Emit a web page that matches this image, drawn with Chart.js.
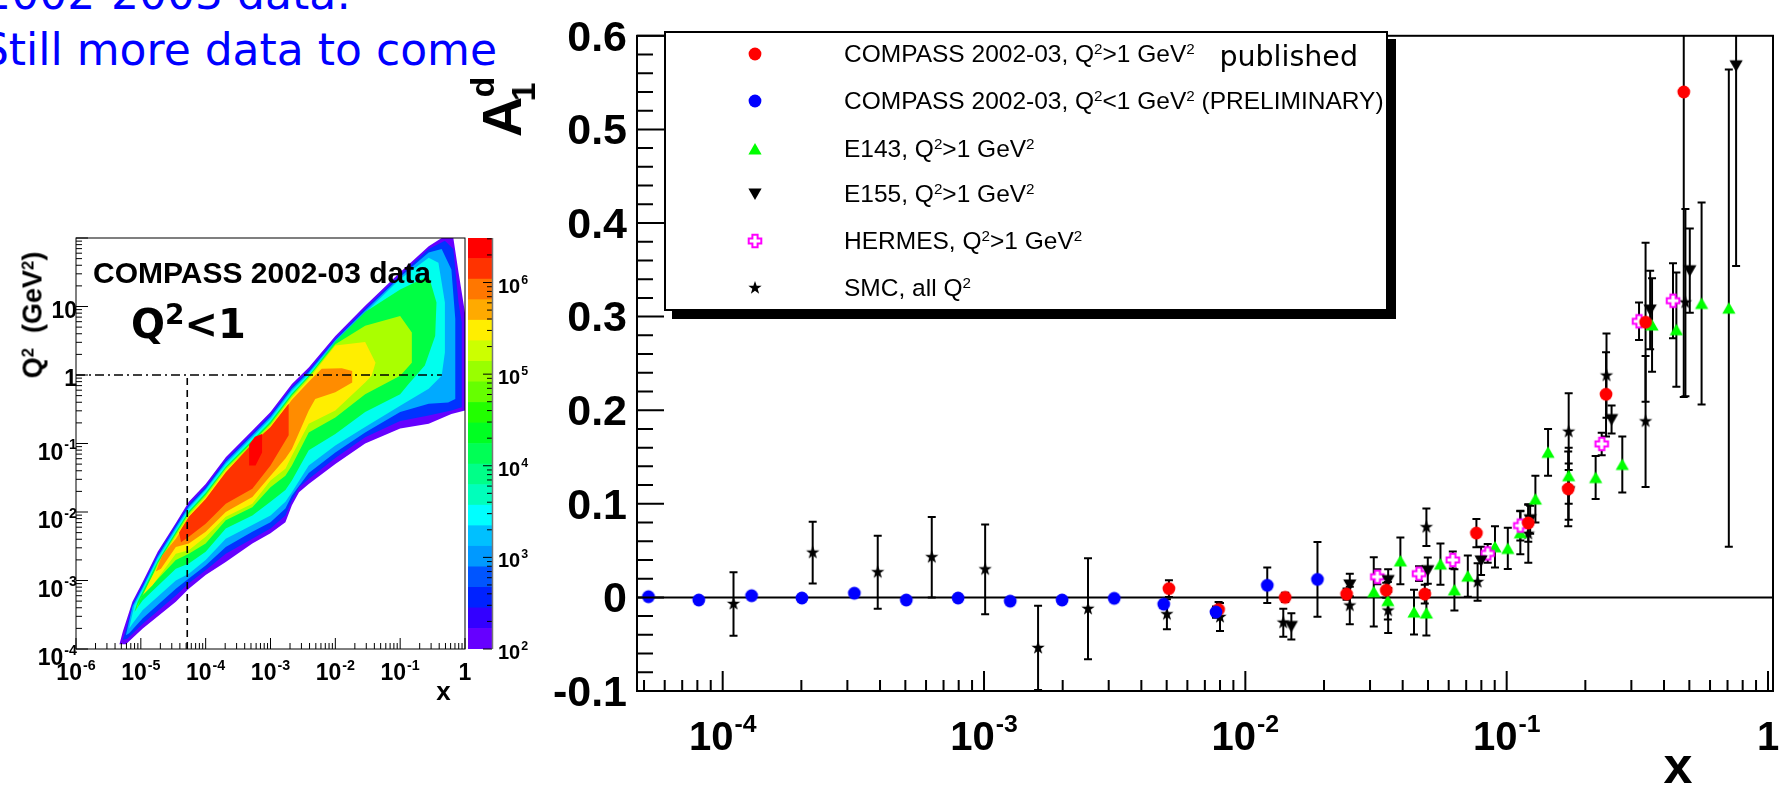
<!DOCTYPE html>
<html lang="en">
<head>
<meta charset="UTF-8">
<title>A1d versus x</title>
<script src="https://cdn.jsdelivr.net/npm/chart.js"></script>
<style>
  * { margin: 0; padding: 0; box-sizing: border-box; }
  body { width: 1780px; height: 785px; overflow: hidden; background: #fff; position: relative;
         font-family: 'Liberation Sans', Arial, Helvetica, sans-serif; color: #000; }
  canvas { position: absolute; }
  .txt { position: absolute; white-space: nowrap; line-height: 1; }
  .comic { font-family: 'Comic Sans MS', 'DejaVu Sans', sans-serif; }
  .bold { font-weight: bold; }
  .rot { transform: translate(-50%, -50%) rotate(-90deg); }
  .ctr { transform: translate(-50%, -50%); }
  sup { font-size: 0.62em; position: relative; top: -0.5em; vertical-align: baseline; line-height: 0; }
  #legend { position: absolute; left: 664px; top: 31px; width: 724px; height: 280px;
            border: 2px solid #000; background: #fff; box-shadow: 8px 8px 0 #000; }
  #legend canvas { position: absolute; left: 80px; }
  #legend .txt { left: 178px; font-size: 24.5px; }
</style>
</head>
<body>
<canvas id="heat" width="480" height="520" style="left:0;top:200px"></canvas>
<canvas id="zbar" width="100" height="520" style="left:440px;top:200px"></canvas>
<canvas id="main" width="1240" height="785" style="left:540px;top:0"></canvas>

<div class="txt comic" style="right:1429px;top:-28px;font-size:44px;color:#0000ff">2002-2003 data:</div>
<div class="txt comic" style="right:1283px;top:28px;font-size:44px;color:#0000ff">Still more data to come</div>

<div class="txt bold" style="left:93px;top:257.6px;font-size:30px">COMPASS 2002-03 data</div>
<div class="txt comic bold" style="left:131px;top:304px;font-size:40px">Q<sup style="font-size:0.7em">2</sup>&lt;1</div>
<div class="txt bold rot" style="left:33px;top:315px;font-size:27px">Q<sup>2</sup>&nbsp;&nbsp;(GeV<sup>2</sup>)</div>
<div class="txt bold ctr" style="left:443.5px;top:691px;font-size:26px">x</div>

<div class="txt bold rot" style="left:502px;top:117px;font-size:56px">A</div>
<div class="txt bold rot" style="left:481.5px;top:87px;font-size:34px">d</div>
<div class="txt bold rot" style="left:522.5px;top:91.5px;font-size:34px">1</div>
<div class="txt bold ctr" style="left:1678px;top:764.5px;font-size:52px">x</div>

<div id="legend">
  <canvas width="18" height="18" data-m="0" style="top:12px"></canvas>
  <canvas width="18" height="18" data-m="1" style="top:59px"></canvas>
  <canvas width="18" height="18" data-m="2" style="top:107px"></canvas>
  <canvas width="18" height="18" data-m="3" style="top:152px"></canvas>
  <canvas width="18" height="18" data-m="4" style="top:199px"></canvas>
  <canvas width="18" height="18" data-m="5" style="top:246px"></canvas>
  <div class="txt" style="top:8.8px">COMPASS 2002-03, Q<sup>2</sup>&gt;1 GeV<sup>2</sup></div>
  <div class="txt" style="top:55.8px">COMPASS 2002-03, Q<sup>2</sup>&lt;1 GeV<sup>2</sup> (PRELIMINARY)</div>
  <div class="txt" style="top:103.8px">E143, Q<sup>2</sup>&gt;1 GeV<sup>2</sup></div>
  <div class="txt" style="top:148.8px">E155, Q<sup>2</sup>&gt;1 GeV<sup>2</sup></div>
  <div class="txt" style="top:195.8px">HERMES, Q<sup>2</sup>&gt;1 GeV<sup>2</sup></div>
  <div class="txt" style="top:242.8px">SMC, all Q<sup>2</sup></div>
</div>
<div class="txt comic" style="right:422px;top:43px;font-size:28.5px">published</div>

<script>
  // ---- A1d vs x ----
  const compassHiX   = [0.0051, 0.0079, 0.0142, 0.0244, 0.0346, 0.0486, 0.0766, 0.121, 0.172, 0.240, 0.340, 0.476];
  const compassHiY   = [0.0094, -0.0129, 0.000, 0.0035, 0.0077, 0.0035, 0.0687, 0.0795, 0.116, 0.217, 0.294, 0.540];
  const compassHiErr = [0.009, 0.008, 0.005, 0.006, 0.008, 0.010, 0.015, 0.020, 0.040, 0.045, 0.085, 0.326];

  const compassLoX   = [5.2e-5, 8.1e-5, 1.29e-4, 2.01e-4, 3.19e-4, 5.04e-4, 7.96e-4, 1.26e-3, 1.99e-3, 3.15e-3, 4.87e-3, 7.72e-3, 0.01213, 0.01888];
  const compassLoY   = [0.0007, -0.0028, 0.0018, -0.0007, 0.0045, -0.0028, -0.0007, -0.004, -0.0028, -0.001, -0.0073, -0.0157, 0.0129, 0.0192];
  const compassLoErr = [0.002, 0.002, 0.002, 0.002, 0.002, 0.002, 0.002, 0.002, 0.002, 0.003, 0.004, 0.006, 0.019, 0.040];

  const e143X   = [0.0310, 0.0351, 0.0392, 0.0442, 0.0493, 0.0558, 0.0631, 0.0710, 0.0902, 0.101, 0.1128, 0.1288, 0.144, 0.1727, 0.219, 0.277, 0.360, 0.446, 0.557, 0.708];
  const e143Y   = [0.006, -0.0035, 0.039, -0.0157, -0.0167, 0.0356, 0.008, 0.0227, 0.054, 0.0523, 0.069, 0.105, 0.155, 0.130, 0.128, 0.142, 0.291, 0.286, 0.314, 0.309];
  const e143Err = [0.037, 0.020, 0.025, 0.024, 0.024, 0.022, 0.022, 0.022, 0.022, 0.022, 0.023, 0.025, 0.025, 0.030, 0.023, 0.030, 0.050, 0.061, 0.108, 0.255];

  const e155X   = [0.0150, 0.0251, 0.0352, 0.0499, 0.0798, 0.123, 0.1727, 0.252, 0.354, 0.502, 0.755];
  const e155Y   = [-0.031, 0.0133, 0.018, 0.0286, 0.039, 0.083, 0.113, 0.190, 0.307, 0.349, 0.568];
  const e155Err = [0.014, 0.012, 0.012, 0.014, 0.015, 0.015, 0.030, 0.015, 0.042, 0.045, 0.214];

  const hermesX   = [0.0320, 0.0462, 0.0622, 0.0846, 0.1128, 0.231, 0.321, 0.433];
  const hermesY   = [0.022, 0.0254, 0.040, 0.047, 0.0767, 0.164, 0.295, 0.317];
  const hermesErr = [0.008, 0.008, 0.009, 0.010, 0.016, 0.012, 0.020, 0.040];

  const smcX   = [1.10e-4, 2.21e-4, 3.92e-4, 6.31e-4, 1.01e-3, 1.61e-3, 2.50e-3, 5.01e-3, 8.0e-3, 0.01397, 0.0251, 0.0352, 0.0493, 0.0774, 0.121, 0.1727, 0.241, 0.340, 0.483];
  const smcY   = [-0.007, 0.0478, 0.0269, 0.043, 0.030, -0.054, -0.0122, -0.018, -0.021, -0.027, -0.0087, -0.014, 0.075, 0.0164, 0.068, 0.177, 0.237, 0.188, 0.315];
  const smcErr = [0.034, 0.033, 0.039, 0.043, 0.048, 0.045, 0.054, 0.016, 0.015, 0.015, 0.020, 0.024, 0.020, 0.020, 0.031, 0.041, 0.045, 0.070, 0.100];

  const mainXLabels = [1e-4, 1e-3, 1e-2, 1e-1, 1];

  // ---- Q2 vs x occupancy, contour outlines as [log10 x, log10 Q2] ----
  const heatViolet = [[-5.33,-3.93],[-5.28,-3.75],[-5.13,-3.31],[-4.97,-3.02],[-4.74,-2.58],[-4.46,-2.16],[-4.26,-1.85],[-4.00,-1.59],[-3.69,-1.20],[-3.28,-0.81],[-3.00,-0.54],[-2.67,-0.13],[-2.41,0.11],[-2.00,0.57],[-1.54,1.01],[-1.00,1.50],[-0.56,1.88],[-0.36,2.0],[-0.18,2.0],[-0.10,1.50],[0,0.91],
    [0,-0.52],[-0.21,-0.57],[-0.56,-0.71],[-1.00,-0.78],[-1.54,-1.00],[-2.00,-1.30],[-2.41,-1.59],[-2.56,-1.71],[-2.67,-1.90],[-2.77,-2.15],[-3.00,-2.31],[-3.28,-2.46],[-3.69,-2.73],[-4.00,-2.92],[-4.26,-3.12],[-4.46,-3.31],[-4.97,-3.70],[-5.23,-3.93]];
  const heatBlue = [[-5.28,-3.87],[-5.23,-3.72],[-5.13,-3.35],[-4.97,-3.06],[-4.74,-2.62],[-4.46,-2.19],[-4.26,-1.89],[-4.00,-1.63],[-3.69,-1.24],[-3.28,-0.85],[-3.00,-0.58],[-2.67,-0.17],[-2.41,0.07],[-2.00,0.53],[-1.54,0.97],[-1.00,1.46],[-0.56,1.84],[-0.31,1.96],[-0.18,1.84],[-0.10,1.06],[-0.05,0.77],
    [-0.05,-0.47],[-0.21,-0.52],[-0.56,-0.59],[-1.00,-0.67],[-1.54,-0.91],[-2.00,-1.21],[-2.41,-1.52],[-2.56,-1.64],[-2.67,-1.83],[-2.77,-2.05],[-3.00,-2.24],[-3.28,-2.39],[-3.69,-2.61],[-4.00,-2.85],[-4.26,-3.04],[-4.46,-3.22],[-4.97,-3.63],[-5.21,-3.85]];
  const heatSky = [[-5.23,-3.80],[-5.13,-3.38],[-4.97,-3.09],[-4.74,-2.65],[-4.46,-2.22],[-4.26,-1.92],[-4.00,-1.66],[-3.69,-1.27],[-3.28,-0.88],[-3.00,-0.61],[-2.67,-0.20],[-2.41,0.04],[-2.00,0.51],[-1.54,0.94],[-1.00,1.43],[-0.56,1.79],[-0.36,1.84],[-0.21,1.54],[-0.15,0.82],
    [-0.15,-0.35],[-0.26,-0.40],[-0.56,-0.42],[-1.00,-0.54],[-1.54,-0.84],[-2.00,-1.13],[-2.41,-1.43],[-2.67,-1.76],[-2.77,-1.95],[-3.00,-2.15],[-3.28,-2.29],[-3.69,-2.51],[-4.00,-2.78],[-4.26,-2.97],[-4.46,-3.12],[-4.97,-3.55],[-5.18,-3.77]];
  const heatCyan = [[-5.18,-3.70],[-5.10,-3.36],[-4.97,-3.12],[-4.74,-2.68],[-4.46,-2.25],[-4.26,-1.95],[-4.00,-1.68],[-3.69,-1.30],[-3.28,-0.91],[-3.00,-0.64],[-2.67,-0.23],[-2.41,0.02],[-2.00,0.48],[-1.54,0.91],[-1.00,1.40],[-0.56,1.71],[-0.41,1.64],[-0.31,1.06],[-0.31,0.33],
    [-0.36,-0.01],[-0.56,-0.20],[-1.00,-0.45],[-1.54,-0.76],[-2.00,-1.03],[-2.41,-1.32],[-2.67,-1.71],[-2.77,-1.85],[-3.00,-2.05],[-3.28,-2.19],[-3.69,-2.39],[-4.00,-2.70],[-4.26,-2.90],[-4.46,-3.00],[-4.97,-3.43],[-5.13,-3.63]];
  const heatGreen = [[-5.13,-3.55],[-5.05,-3.31],[-4.95,-3.12],[-4.74,-2.72],[-4.46,-2.29],[-4.26,-1.99],[-4.00,-1.72],[-3.69,-1.34],[-3.28,-0.95],[-3.00,-0.68],[-2.67,-0.27],[-2.41,-0.01],[-2.00,0.49],[-1.54,0.92],[-1.00,1.25],[-0.56,1.45],[-0.44,1.06],[-0.46,0.57],
    [-0.62,0.14],[-0.87,-0.13],[-1.00,-0.28],[-1.54,-0.54],[-2.00,-0.86],[-2.41,-1.10],[-2.67,-1.54],[-2.77,-1.68],[-3.00,-1.85],[-3.28,-2.05],[-3.69,-2.24],[-4.00,-2.58],[-4.26,-2.75],[-4.46,-2.83],[-4.97,-3.29],[-5.10,-3.46]];
  const heatLime = [[-5.08,-3.46],[-5.00,-3.26],[-4.90,-3.12],[-4.74,-2.75],[-4.46,-2.32],[-4.26,-2.02],[-4.00,-1.75],[-3.69,-1.36],[-3.28,-0.98],[-3.00,-0.71],[-2.67,-0.30],[-2.41,-0.03],[-2.00,0.45],[-1.54,0.72],[-1.00,0.86],[-0.82,0.62],[-0.82,0.18],
    [-1.00,-0.01],[-1.54,-0.28],[-2.00,-0.62],[-2.41,-0.84],[-2.67,-1.32],[-2.77,-1.47],[-3.00,-1.64],[-3.28,-1.93],[-3.69,-2.12],[-4.00,-2.46],[-4.26,-2.61],[-4.46,-2.70],[-4.97,-3.21],[-5.05,-3.36]];
  const heatYellow = [[-4.97,-3.21],[-4.87,-3.02],[-4.72,-2.75],[-4.46,-2.35],[-4.26,-2.05],[-4.00,-1.78],[-3.69,-1.39],[-3.28,-1.01],[-3.00,-0.74],[-2.67,-0.33],[-2.41,-0.06],[-2.00,0.43],[-1.54,0.48],[-1.38,0.18],[-1.44,-0.01],
    [-1.54,-0.11],[-2.00,-0.52],[-2.41,-0.71],[-2.67,-1.18],[-2.77,-1.37],[-3.00,-1.54],[-3.28,-1.88],[-3.69,-2.07],[-4.00,-2.36],[-4.26,-2.56],[-4.46,-2.61],[-4.82,-3.07]];
  const heatOrange = [[-4.77,-2.87],[-4.67,-2.63],[-4.46,-2.39],[-4.26,-2.09],[-4.00,-1.82],[-3.69,-1.43],[-3.28,-1.04],[-3.00,-0.78],[-2.67,-0.36],[-2.41,-0.10],[-2.21,0.09],[-1.90,0.10],[-1.74,0.06],
    [-1.74,-0.11],[-2.00,-0.25],[-2.31,-0.35],[-2.41,-0.52],[-2.67,-1.08],[-2.77,-1.22],[-3.00,-1.47],[-3.28,-1.78],[-3.69,-2.00],[-4.00,-2.29],[-4.26,-2.46],[-4.46,-2.51],[-4.69,-2.83]];
  const heatRedOrange = [[-4.41,-2.30],[-4.26,-2.07],[-4.00,-1.81],[-3.69,-1.42],[-3.28,-1.00],[-3.00,-0.76],[-2.72,-0.42],
    [-2.72,-0.88],[-3.00,-1.32],[-3.28,-1.66],[-3.69,-1.88],[-4.00,-2.17],[-4.26,-2.36],[-4.38,-2.44]];
  const heatRed = [[-3.33,-1.02],[-3.24,-0.90],[-3.13,-0.86],[-3.13,-1.13],[-3.23,-1.32],[-3.33,-1.32]];

  const cutXmin = 5.2e-5;      // dashed vertical cut
  const cutQ2 = 1;             // dash-dotted Q2 = 1 line
  const cutLineXmax = 0.44;
  const heatXLabels = [1e-6, 1e-5, 1e-4, 1e-3, 1e-2, 1e-1, 1];
  const heatYLabels = [1e-4, 1e-3, 1e-2, 1e-1, 1, 10];

  // colour scale: 20 equal log steps
  const zEdges = [100, 168, 281, 471, 789, 1323, 2217, 3716, 6228, 10440, 17500, 29330, 49160, 82400, 138100, 231500, 388000, 650300, 1090000, 1827000, 3062000];
  const zLabels = [1e2, 1e3, 1e4, 1e5, 1e6];

  // styles
  const zColors = ['#6600ff', '#3300ff', '#0022ff', '#0055ff', '#0099ff', '#00c0ff', '#00ffff', '#00ffbb', '#00ff88', '#00ff55',
                   '#00ff22', '#22ff00', '#66ff00', '#99ff00', '#ccff00', '#ffee00', '#ffaa00', '#ff7700', '#ff3300', '#ff0000'];
  const heatLevels = [
    [heatViolet, '#6600ff'], [heatBlue, '#0033ff'], [heatSky, '#00aaff'], [heatCyan, '#00ffee'],
    [heatGreen, '#00ff44'], [heatLime, '#aaff00'], [heatYellow, '#ffee00'], [heatOrange, '#ff8c00'],
    [heatRedOrange, '#ff3300'], [heatRed, '#ff0000']
  ];
  const FONT = "'Liberation Sans', 'DejaVu Sans', Arial, sans-serif";

  function logTicks(lo, hi, major, minor) {
    const out = [];
    for (let e = Math.floor(Math.log10(lo)); e <= Math.ceil(Math.log10(hi)); e++) {
      for (let k = 1; k <= 9; k++) {
        const v = k * Math.pow(10, e);
        if (v >= lo * 0.999 && v <= hi * 1.001) out.push([v, k === 1 ? major : minor]);
      }
    }
    return out;
  }
  function linTicks(lo, hi, step, every, major, minor) {
    const out = [];
    const n = Math.round((hi - lo) / step);
    for (let i = 0; i <= n; i++) out.push([lo + i * step, i % every === 0 ? major : minor]);
    return out;
  }

  // markers like the ROOT ones
  function makeMarker(kind, color) {
    const c = document.createElement('canvas');
    c.width = c.height = 18;
    const g = c.getContext('2d');
    g.translate(9, 9);
    g.fillStyle = color;
    g.strokeStyle = color;
    g.beginPath();
    if (kind === 'circle') {
      g.arc(0, 0, 6.4, 0, Math.PI * 2);
    } else if (kind === 'up') {
      g.moveTo(0, -6); g.lineTo(6.6, 5.6); g.lineTo(-6.6, 5.6);
    } else if (kind === 'down') {
      g.moveTo(0, 6); g.lineTo(6.6, -5.6); g.lineTo(-6.6, -5.6);
    } else if (kind === 'star') {
      for (let i = 0; i < 10; i++) {
        const r = i % 2 ? 2.8 : 7;
        const a = -Math.PI / 2 + i * Math.PI / 5;
        g.lineTo(r * Math.cos(a), r * Math.sin(a));
      }
    } else if (kind === 'cross') {
      const a = 2.6, b = 6.3;
      [[-a,-b],[a,-b],[a,-a],[b,-a],[b,a],[a,a],[a,b],[-a,b],[-a,a],[-b,a],[-b,-a],[-a,-a]].forEach(([x, y]) => g.lineTo(x, y));
    }
    g.closePath();
    if (kind === 'cross') {
      g.fillStyle = '#fff'; g.fill();
      g.lineWidth = 2; g.stroke();
    } else {
      g.fill();
    }
    return c;
  }
  const markers = [
    makeMarker('circle', '#ff0000'), makeMarker('circle', '#0000ff'), makeMarker('up', '#00ff00'),
    makeMarker('down', '#000000'), makeMarker('cross', '#ff00ff'), makeMarker('star', '#000000')
  ];
  document.querySelectorAll('#legend canvas').forEach(c => {
    c.getContext('2d').drawImage(markers[+c.dataset.m], 0, 0);
  });

  // frame, inward ticks and the zero line
  const rootFrame = {
    id: 'rootFrame',
    beforeDatasetsDraw(chart, args, o) {
      if (!o.zeroLine) return;
      const {ctx, chartArea: a, scales} = chart;
      const p = scales.y.getPixelForValue(0);
      ctx.save();
      ctx.strokeStyle = '#000';
      ctx.lineWidth = o.lineWidth;
      ctx.beginPath();
      ctx.moveTo(a.left, p);
      ctx.lineTo(a.right, p);
      ctx.stroke();
      ctx.restore();
    },
    afterDatasetsDraw(chart, args, o) {
      const {ctx, chartArea: a, scales} = chart;
      ctx.save();
      ctx.strokeStyle = '#000';
      ctx.lineWidth = o.lineWidth;
      ctx.beginPath();
      (o.xTicks || []).forEach(([v, len]) => {
        const p = scales.x.getPixelForValue(v);
        ctx.moveTo(p, a.bottom);
        ctx.lineTo(p, a.bottom - len);
      });
      (o.yTicks || []).forEach(([v, len]) => {
        const p = scales.y.getPixelForValue(v);
        if (o.ySide === 'right') { ctx.moveTo(a.right, p); ctx.lineTo(a.right - len, p); }
        else { ctx.moveTo(a.left, p); ctx.lineTo(a.left + len, p); }
      });
      ctx.stroke();
      if (o.frame) ctx.strokeRect(a.left, a.top, a.width, a.height);
      if (o.edgeColor) {
        ctx.strokeStyle = o.edgeColor;
        ctx.lineWidth = 1.5;
        ctx.beginPath();
        ctx.moveTo(a.right + 0.5, a.top);
        ctx.lineTo(a.right + 0.5, a.bottom);
        ctx.stroke();
      }
      ctx.restore();
    }
  };

  // ROOT style 10^{n} tick labels on log axes
  const powLabels = {
    id: 'powLabels',
    afterDraw(chart, args, o) {
      const {ctx} = chart;
      ctx.save();
      ctx.fillStyle = '#000';
      ctx.textBaseline = 'alphabetic';
      ctx.textAlign = 'left';
      o.axes.forEach(ax => {
        const scale = chart.scales[ax.id];
        const big = `bold ${ax.size}px ${FONT}`;
        const small = `bold ${ax.size * 0.62}px ${FONT}`;
        ax.values.forEach(v => {
          const e = Math.round(Math.log10(v));
          const base = e === 0 ? '1' : '10';
          const exp = (e === 0 || (e === 1 && ax.plainTen)) ? '' : String(e);
          ctx.font = big;
          const wb = ctx.measureText(base).width;
          ctx.font = small;
          const we = exp ? ctx.measureText(exp).width + 1 : 0;
          const p = scale.getPixelForValue(v);
          let x0, yb;
          if (ax.id === 'x') {
            x0 = p - (wb + we) / 2;
            yb = ax.baseline;
          } else {
            yb = p + (exp ? ax.dyExp : ax.dyPlain);
            x0 = ax.align === 'right' ? ax.edge - wb - we : ax.edge;
          }
          ctx.font = big;
          ctx.fillText(base, x0, yb);
          if (exp) {
            ctx.font = small;
            ctx.fillText(exp, x0 + wb + 1, yb - ax.size * 0.45);
          }
        });
      });
      ctx.restore();
    }
  };

  const errorBars = {
    id: 'errorBars',
    beforeDatasetsDraw(chart) {
      const {ctx, chartArea: a, scales: {x, y}} = chart;
      ctx.save();
      ctx.beginPath();
      ctx.rect(a.left, a.top, a.width, a.height);
      ctx.clip();
      ctx.strokeStyle = '#000';
      ctx.lineWidth = 2;
      chart.data.datasets.forEach(ds => {
        ds.data.forEach((p, i) => {
          const px = x.getPixelForValue(p.x);
          const y1 = y.getPixelForValue(p.y + ds.errors[i]);
          const y2 = y.getPixelForValue(p.y - ds.errors[i]);
          ctx.beginPath();
          ctx.moveTo(px, y1); ctx.lineTo(px, y2);
          ctx.moveTo(px - 4, y1); ctx.lineTo(px + 4, y1);
          ctx.moveTo(px - 4, y2); ctx.lineTo(px + 4, y2);
          ctx.stroke();
        });
      });
      ctx.restore();
    }
  };

  const pts = (xs, ys) => xs.map((x, i) => ({x, y: ys[i]}));
  const series = (xs, ys, errs, marker, order) => ({
    data: pts(xs, ys), errors: errs, pointStyle: marker, pointRadius: 6, order
  });
  const boldFont = size => ({family: FONT, size, weight: 'bold'});
  const noGrid = {display: false, drawTicks: false};
  const base = {
    responsive: false, animation: false, events: [], devicePixelRatio: 1
  };

  // ---- main plot ----
  new Chart(document.getElementById('main'), {
    type: 'scatter',
    data: {
      datasets: [
        series(compassLoX, compassLoY, compassLoErr, markers[1], 0),
        series(compassHiX, compassHiY, compassHiErr, markers[0], 1),
        series(e155X, e155Y, e155Err, markers[3], 2),
        series(hermesX, hermesY, hermesErr, markers[4], 3),
        series(e143X, e143Y, e143Err, markers[2], 4),
        series(smcX, smcY, smcErr, markers[5], 5)
      ]
    },
    options: {
      ...base,
      layout: {padding: {top: 22, right: 4, bottom: 0, left: 0}},
      plugins: {
        legend: {display: false},
        tooltip: {enabled: false},
        rootFrame: {
          lineWidth: 2, frame: true, zeroLine: true,
          xTicks: logTicks(4.7e-5, 1.045, 20, 11),
          yTicks: linTicks(-0.1, 0.6, 0.02, 5, 27, 16)
        },
        powLabels: {axes: [{id: 'x', values: mainXLabels, size: 40, baseline: 750}]}
      },
      scales: {
        x: {
          type: 'logarithmic', min: 4.7e-5, max: 1.045,
          border: {display: false}, grid: noGrid,
          afterFit: s => { s.height = 94; },
          ticks: {display: false}
        },
        y: {
          min: -0.1, max: 0.6,
          border: {display: false}, grid: noGrid,
          afterFit: s => { s.width = 97; },
          ticks: {stepSize: 0.1, autoSkip: false, padding: 10, labelOffset: 3, color: '#000', font: boldFont(43),
                  callback: v => Math.abs(v) < 1e-9 ? '0' : v.toFixed(1)}
        }
      }
    },
    plugins: [rootFrame, errorBars, powLabels]
  });

  // ---- Q2 vs x occupancy ----
  const heatSets = heatLevels.map(([poly, color], i) => ({
    data: poly.map(([lx, lq]) => ({x: Math.pow(10, lx), y: Math.pow(10, lq)})),
    showLine: true, fill: 'shape', tension: 0,
    backgroundColor: color, borderColor: 'rgba(0,0,0,0)', borderWidth: 0,
    pointRadius: 0, order: 20 - i
  }));
  heatSets.push({
    data: [{x: cutXmin, y: 1e-4}, {x: cutXmin, y: cutQ2}],
    showLine: true, fill: false, borderColor: '#000', borderWidth: 1.6, borderDash: [7, 5], pointRadius: 0, order: 0
  });
  heatSets.push({
    data: [{x: 1e-6, y: cutQ2}, {x: cutLineXmax, y: cutQ2}],
    showLine: true, fill: false, borderColor: '#000', borderWidth: 1.6, borderDash: [9, 4, 2, 4], pointRadius: 0, order: 0
  });

  new Chart(document.getElementById('heat'), {
    type: 'scatter',
    data: {datasets: heatSets},
    options: {
      ...base,
      layout: {padding: {top: 38, right: 15, bottom: 0, left: 0}},
      plugins: {
        legend: {display: false},
        tooltip: {enabled: false},
        rootFrame: {lineWidth: 1, frame: true, xTicks: logTicks(1e-6, 1, 11, 6), yTicks: logTicks(1e-4, 100, 12, 6)},
        powLabels: {axes: [
          {id: 'x', values: heatXLabels, size: 23, baseline: 480},
          {id: 'y', values: heatYLabels, size: 23, align: 'right', edge: 77, dyExp: 16, dyPlain: 11, plainTen: true}
        ]}
      },
      scales: {
        x: {
          type: 'logarithmic', min: 1e-6, max: 1,
          border: {display: false}, grid: noGrid,
          afterFit: s => { s.height = 71; },
          ticks: {display: false}
        },
        y: {
          type: 'logarithmic', min: 1e-4, max: 100,
          border: {display: false}, grid: noGrid,
          afterFit: s => { s.width = 76; },
          ticks: {display: false}
        }
      }
    },
    plugins: [rootFrame, powLabels]
  });

  // ---- colour scale ----
  new Chart(document.getElementById('zbar'), {
    type: 'bar',
    data: {
      labels: [''],
      datasets: zColors.map((c, i) => ({
        data: [[zEdges[i], zEdges[i + 1]]], backgroundColor: c, borderWidth: 0,
        grouped: false, barPercentage: 1, categoryPercentage: 1
      }))
    },
    options: {
      ...base,
      layout: {padding: {top: 38, right: 0, bottom: 71, left: 28}},
      plugins: {
        legend: {display: false},
        tooltip: {enabled: false},
        rootFrame: {lineWidth: 1, ySide: 'right', edgeColor: '#777', yTicks: logTicks(100, 3.062e6, 9, 5)},
        powLabels: {axes: [{id: 'y', values: zLabels, size: 20, align: 'left', edge: 58, dyExp: 10, dyPlain: 10}]}
      },
      scales: {
        x: {display: false},
        y: {
          type: 'logarithmic', position: 'right', min: zEdges[0], max: zEdges[zEdges.length - 1],
          border: {display: false}, grid: noGrid,
          afterFit: s => { s.width = 48; },
          ticks: {display: false}
        }
      }
    },
    plugins: [rootFrame, powLabels]
  });
</script>
</body>
</html>
